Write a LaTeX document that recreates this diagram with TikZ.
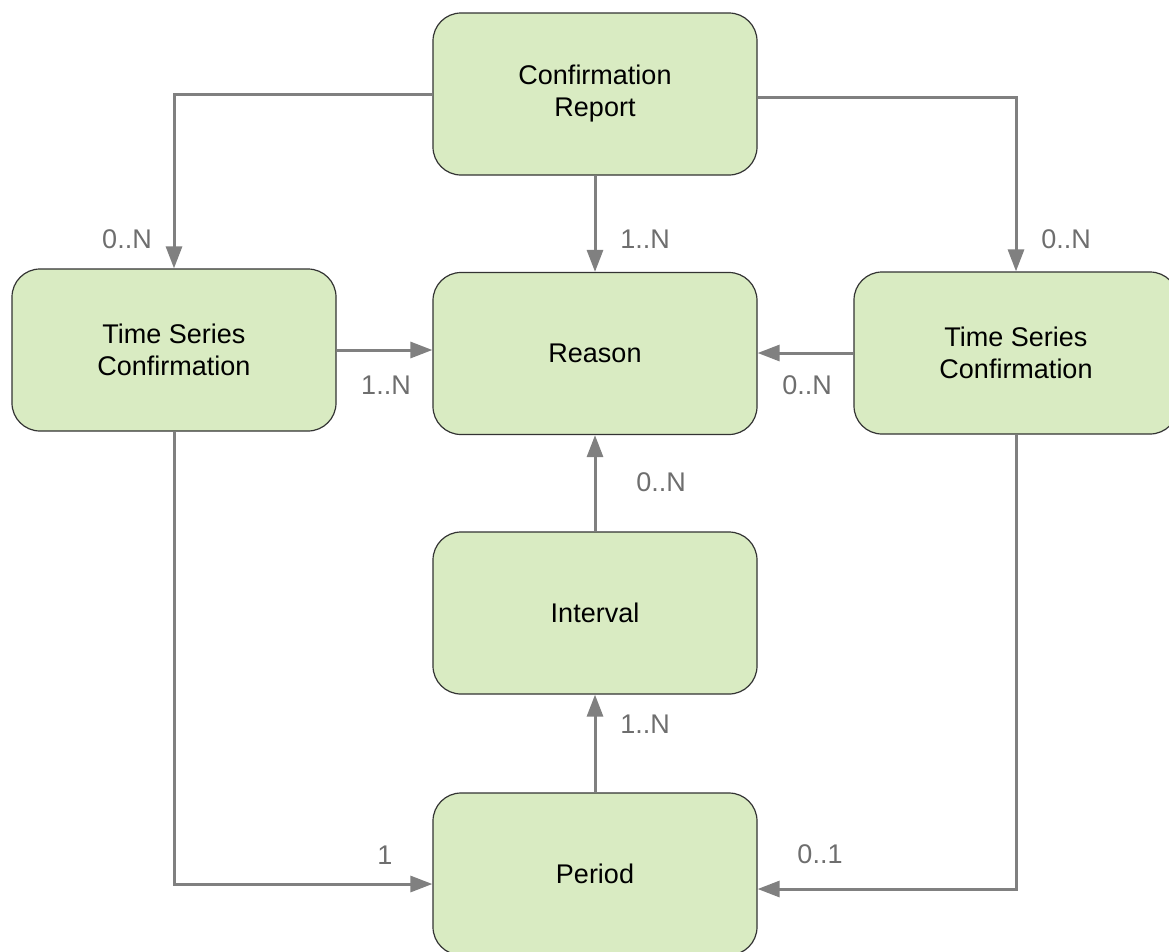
\documentclass[tikz,border=0pt]{standalone}
\usepackage{fontspec}
\setmainfont{Liberation Sans}
\usetikzlibrary{arrows.meta}
\definecolor{boxgreen}{HTML}{D9EBC2}
\definecolor{linegray}{HTML}{808080}
\definecolor{labelgray}{HTML}{6E6E6E}
\begin{document}
\begin{tikzpicture}[x=1pt,y=-1pt,
  entity/.style={draw=black!80, line width=1.2pt, fill=boxgreen, rounded corners=28pt,
    minimum width=324pt, minimum height=162pt, align=center, inner sep=0pt,
    font=\fontsize{27}{32}\selectfont},
  link/.style={draw=linegray, line width=3pt, -{Triangle[length=22pt,width=16pt]}},
  mult/.style={text=labelgray, inner sep=0pt, font=\fontsize{27}{32}\selectfont}]
	\useasboundingbox (0,0) rectangle (1169,951);
	% entities
	\node[entity] (report) at (595,94) {Confirmation\\Report};
	\node[entity] (reason) at (595,353.5) {Reason};
	\node[entity] (tsleft) at (174,350) {Time Series\\Confirmation};
	\node[entity] (tsright) at (1016,353) {Time Series\\Confirmation};
	\node[entity] (interval) at (595,613) {Interval};
	\node[entity] (period) at (595,874) {Period};
	% links
	\draw[link] (report.west) -| (tsleft.north);
	\draw[link] (report.south) -- (reason.north);
	\draw[link] ([yshift=-3pt]report.east) -| (tsright.north);
	\draw[link] (tsleft.east) -- (tsleft.east -| reason.west);
	\draw[link] (tsright.west) -- (tsright.west -| reason.east);
	\draw[link] (interval.north) -- (reason.south);
	\draw[link] (period.north) -- (interval.south);
	\draw[link] (tsleft.south) |- ([yshift=-10pt]period.west);
	\draw[link] (tsright.south) |- ([yshift=-15pt]period.east);
	% multiplicities
	\node[mult] (mlefttop) at (127,239) {0..N};
	\node[mult] (mreasontop) at (645,239) {1..N};
	\node[mult] (mrighttop) at (1066,239) {0..N};
	\node[mult] (mleftreason) at (386,385) {1..N};
	\node[mult] (mrightreason) at (807,385) {0..N};
	\node[mult] (minterval) at (661,482) {0..N};
	\node[mult] (mperiod) at (645,724) {1..N};
	\node[mult] (mleftperiod) at (385,855) {1};
	\node[mult] (mrightperiod) at (820,854) {0..1};
\end{tikzpicture}
\end{document}
